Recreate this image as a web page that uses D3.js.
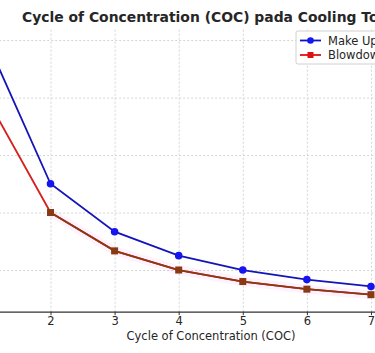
<!DOCTYPE html>
<html>
<head>
<meta charset="utf-8">
<script src="https://cdn.jsdelivr.net/npm/d3@7"></script>
<style>
  body { margin: 0; background: #fff; }
  text { font-family: "DejaVu Sans", sans-serif; }
</style>
</head>
<body>
<div id="chart"></div>
<script>
// data
const coc = [1, 2, 3, 4, 5, 6, 7];
const makeUp = [50, 25, 16.67, 12.5, 10, 8.33, 7.14];
const blowdown = [40, 20, 13.33, 10, 8, 6.67, 5.71];
// brown overlay segment (x = 2..7)
const overlayCoc = [2, 3, 4, 5, 6, 7];
const overlayVal = [20, 13.33, 10, 8, 6.67, 5.71];
const yTicks = [10, 20, 30, 40, 50];
const seriesNames = ["Make Up Water", "Blowdown"];

const W = 375, H = 353;
const svg = d3.select("#chart").append("svg")
    .attr("width", W).attr("height", H);
svg.append("rect").attr("width", W).attr("height", H).attr("fill", "#fff");

// plot area runs past the crop on the left and right
let scaleX = d3.scaleLinear().domain([0.7, 7.3]).range([-32.8, 390.2]);
let scaleY = d3.scaleLinear().domain([2.75, 52.1]).range([311.7, 28]);

const g = svg.append("g");

//grid
g.append("g")
    .attr("transform", `translate(0,${scaleY(2.75)})`)
    .call(d3.axisBottom(scaleX).tickValues(coc).tickSize(-(scaleY(2.75) - scaleY(52.1))).tickFormat(""))
    .call(a => a.select(".domain").remove())
    .selectAll("line").attr("stroke", "#d4d4d4").attr("stroke-dasharray", "2,2");
// y axis sits left of the crop, so only its grid lines show
g.append("g")
    .attr("transform", `translate(${scaleX(0.7)},0)`)
    .call(d3.axisLeft(scaleY).tickValues(yTicks).tickSize(-(scaleX(7.3) - scaleX(0.7))).tickFormat(""))
    .call(a => a.select(".domain").remove())
    .call(a => a.selectAll("line").attr("stroke", "#d4d4d4").attr("stroke-dasharray", "2,2"));

//x axis
const ax = g.append("g")
    .attr("transform", `translate(0,${scaleY(2.75)})`)
    .call(d3.axisBottom(scaleX).tickValues(coc).tickSize(3.5).tickPadding(1.5).tickFormat(d3.format("d")));
ax.select(".domain").attr("stroke", "#333").attr("stroke-width", 1.2);
ax.selectAll("line").attr("stroke", "#333");
ax.selectAll("text").attr("font-size", 11.5).attr("fill", "#262626");

svg.append("text")
    .attr("x", 211).attr("y", 339.5)
    .attr("text-anchor", "middle")
    .attr("font-size", 11.5).attr("fill", "#262626")
    .text("Cycle of Concentration (COC)");

svg.append("text")
    .attr("x", 22).attr("y", 21.7)
    .attr("font-size", 13.9).attr("font-weight", "bold").attr("fill", "#262626")
    .text("Cycle of Concentration (COC) pada Cooling Tower");

const line = d3.line().x(d => scaleX(d[0])).y(d => scaleY(d[1]));
const blueData = coc.map((c, i) => [c, makeUp[i]]);
const redData = coc.map((c, i) => [c, blowdown[i]]);
const brownData = overlayCoc.map((c, i) => [c, overlayVal[i]]);

// faint pink halo under the brown line
g.append("path").datum(brownData)
    .attr("fill", "none").attr("stroke", "#ff40ff").attr("stroke-opacity", 0.07)
    .attr("stroke-width", 9).attr("d", line);

g.append("path").datum(redData)
    .attr("fill", "none").attr("stroke", "#d61f1f").attr("stroke-width", 1.8).attr("d", line);
g.append("path").datum(brownData)
    .attr("fill", "none").attr("stroke", "#8a3a12").attr("stroke-width", 1.8).attr("d", line);
g.selectAll(".sq").data(brownData).enter().append("rect")
    .attr("x", d => scaleX(d[0]) - 3.5).attr("y", d => scaleY(d[1]) - 3.5)
    .attr("width", 7).attr("height", 7).attr("fill", "#8a3a12");

g.append("path").datum(blueData)
    .attr("fill", "none").attr("stroke", "#1414bb").attr("stroke-width", 1.8).attr("d", line);
g.selectAll(".dot").data(blueData).enter().append("circle")
    .attr("cx", d => scaleX(d[0])).attr("cy", d => scaleY(d[1]))
    .attr("r", 3.8).attr("fill", "#1515f0");

//legend
const lg = svg.append("g").attr("transform", "translate(296,31)");
lg.append("rect").attr("width", 100).attr("height", 33).attr("rx", 2)
    .attr("fill", "#fff").attr("fill-opacity", 0.9).attr("stroke", "#d0d0d0");
const legendColors = ["#1010c8", "#e01010"];
seriesNames.forEach((name, i) => {
    const y = 9.5 + i * 14.5;
    lg.append("line").attr("x1", 4).attr("x2", 25).attr("y1", y).attr("y2", y)
        .attr("stroke", legendColors[i]).attr("stroke-width", 1.8);
    if (i === 0) {
        lg.append("circle").attr("cx", 14.5).attr("cy", y).attr("r", 3.3).attr("fill", "#1515f0");
    } else {
        lg.append("rect").attr("x", 11.5).attr("y", y - 3).attr("width", 6).attr("height", 6).attr("fill", "#e01010");
    }
    lg.append("text").attr("x", 32).attr("y", y + 4.2)
        .attr("font-size", 11.5).attr("fill", "#262626").text(name);
});
</script>
</body>
</html>
